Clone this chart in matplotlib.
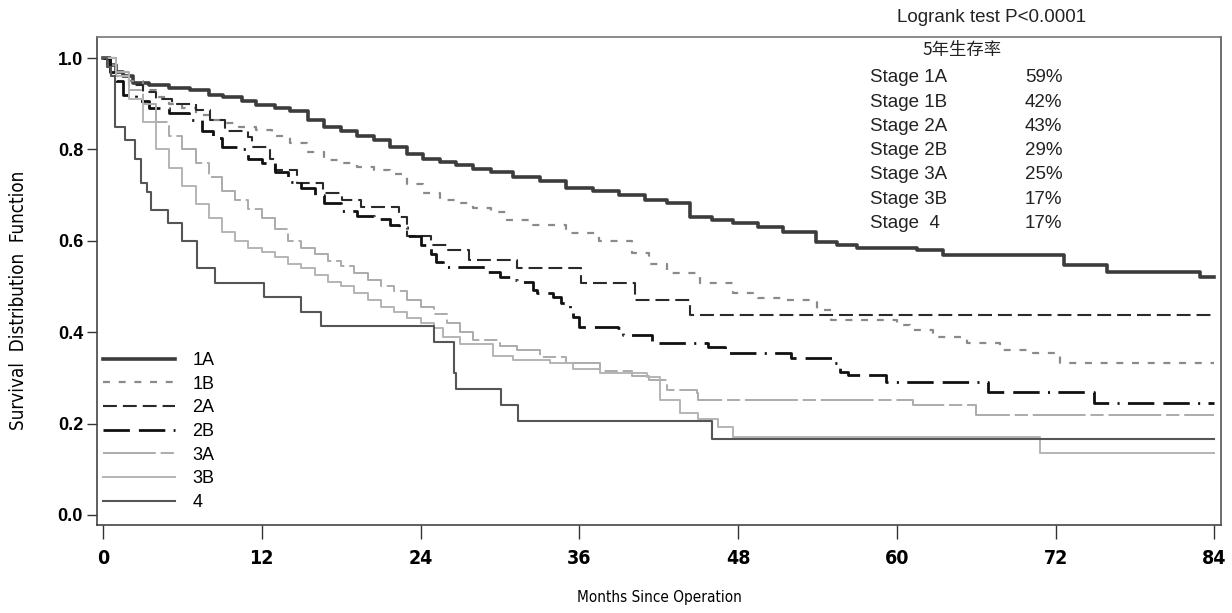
import matplotlib
matplotlib.use("Agg")
import matplotlib.pyplot as plt
from matplotlib import font_manager as fm

# ---------------- data ----------------
stage_labels = ["1A", "1B", "2A", "2B", "3A", "3B", "4"]

t_1a = [0, 0.5, 1, 1.5, 2.3, 3.5, 5, 6.6, 8, 9.1, 10.5, 11.6, 13, 14.1, 15.5, 16.7, 18, 19.2,
        20.5, 21.7, 23, 24.2, 25.5, 26.7, 28, 29.3, 31, 33, 35, 37, 39, 41, 42.6, 44.4, 46,
        47.6, 49.5, 51.4, 53.9, 55.5, 57, 61.5, 63.5, 72.6, 75.9, 82.9, 84]
s_1a = [1.0, 0.985, 0.97, 0.96, 0.945, 0.94, 0.935, 0.93, 0.92, 0.915, 0.905, 0.897, 0.89, 0.883,
        0.865, 0.85, 0.84, 0.83, 0.82, 0.806, 0.79, 0.78, 0.772, 0.766, 0.758, 0.751, 0.74, 0.73,
        0.715, 0.71, 0.70, 0.69, 0.682, 0.653, 0.645, 0.638, 0.63, 0.62, 0.598, 0.59, 0.585, 0.58,
        0.569, 0.547, 0.532, 0.521, 0.521]

t_1b = [0, 0.5, 1, 2, 3, 4, 5, 6, 7, 8, 9.1, 10.3, 11.6, 12.8, 14.1, 15.4, 16.7, 18, 19.2, 20.5,
        21.7, 23, 24.2, 25.5, 26.7, 28, 29.3, 30.5, 32.5, 35, 37.5, 40, 41.3, 42.6, 45.1, 47.6,
        49.5, 51.4, 54, 55, 60, 61, 62.7, 65.3, 67.8, 70.3, 72.3, 84]
s_1b = [1.0, 0.985, 0.97, 0.95, 0.93, 0.915, 0.90, 0.89, 0.875, 0.865, 0.857, 0.85, 0.842, 0.83,
        0.813, 0.795, 0.777, 0.77, 0.762, 0.755, 0.747, 0.725, 0.704, 0.69, 0.682, 0.672, 0.663,
        0.645, 0.635, 0.617, 0.60, 0.573, 0.55, 0.529, 0.507, 0.485, 0.475, 0.47, 0.448, 0.427,
        0.416, 0.405, 0.39, 0.376, 0.361, 0.354, 0.332, 0.332]

t_2a = [0, 1, 2, 3, 4, 5.2, 7, 8.1, 9.2, 11, 11.3, 12.6, 13, 14.7, 16.6, 18.1, 19.5, 22.4, 23,
        24.8, 26, 27.7, 31.3, 36.1, 40.2, 44.4, 84]
s_2a = [1.0, 0.96, 0.94, 0.925, 0.91, 0.90, 0.886, 0.864, 0.84, 0.828, 0.806, 0.78, 0.755, 0.726,
        0.704, 0.69, 0.675, 0.653, 0.61, 0.59, 0.58, 0.558, 0.54, 0.507, 0.47, 0.438, 0.438]

t_2b = [0, 0.5, 1, 1.5, 2.5, 3.5, 5, 6.5, 7.5, 8.3, 9, 10.2, 11, 12, 13, 14, 15, 16, 16.7, 18,
        19.2, 20.5, 21.7, 22.4, 23, 24, 24.8, 25.2, 25.7, 28.9, 30, 30.8, 31.3, 32.5, 32.8, 34,
        34.6, 35.3, 35.5, 36, 38.9, 39.3, 41.5, 45.7, 47, 52, 55.1, 55.7, 56.3, 59.2, 66.9,
        74.9, 84]
s_2b = [1.0, 0.97, 0.95, 0.92, 0.905, 0.89, 0.88, 0.865, 0.84, 0.825, 0.805, 0.80, 0.78, 0.77,
        0.75, 0.728, 0.715, 0.70, 0.682, 0.665, 0.655, 0.648, 0.635, 0.63, 0.61, 0.59, 0.57,
        0.554, 0.543, 0.532, 0.521, 0.514, 0.51, 0.492, 0.485, 0.478, 0.463, 0.449, 0.434, 0.412,
        0.41, 0.394, 0.376, 0.368, 0.355, 0.343, 0.332, 0.313, 0.306, 0.292, 0.27, 0.245, 0.245]

t_3a = [0, 1, 2, 3, 4, 5, 6, 7, 8, 9, 10, 11, 12, 13, 14, 15, 16, 17, 18, 19, 20, 21, 22, 23,
        24, 25, 26, 27, 28, 30, 31.3, 33, 35, 37.6, 40, 41.3, 42.6, 44.9, 45, 61.2, 66, 84]
s_3a = [1.0, 0.97, 0.93, 0.90, 0.86, 0.83, 0.80, 0.77, 0.74, 0.71, 0.69, 0.67, 0.65, 0.625, 0.60,
        0.585, 0.57, 0.555, 0.545, 0.53, 0.515, 0.50, 0.49, 0.47, 0.455, 0.44, 0.42, 0.40, 0.383,
        0.37, 0.361, 0.345, 0.332, 0.315, 0.305, 0.295, 0.274, 0.266, 0.252, 0.24, 0.219, 0.219]

t_3b = [0, 1, 2, 3, 4, 5, 6, 7, 8, 9, 10, 11, 12, 13, 14, 15, 16, 17, 18, 19, 20, 21, 22, 23,
        24, 25, 25.7, 27, 29.5, 31, 33.8, 35.5, 37.6, 41.1, 42.1, 43.6, 45, 46.5, 47.6, 70.8, 84]
s_3b = [1.0, 0.96, 0.91, 0.86, 0.80, 0.76, 0.72, 0.68, 0.65, 0.62, 0.60, 0.585, 0.575, 0.565,
        0.55, 0.54, 0.525, 0.51, 0.50, 0.485, 0.47, 0.455, 0.445, 0.43, 0.42, 0.41, 0.39, 0.375,
        0.347, 0.34, 0.332, 0.32, 0.31, 0.302, 0.252, 0.223, 0.21, 0.193, 0.171, 0.135, 0.135]

t_4 = [0, 0.3, 0.6, 0.9, 1.7, 2.4, 2.9, 3.3, 3.6, 4.9, 5.95, 7.1, 8.5, 12.2, 15.0, 16.5, 25.0,
       26.5, 26.7, 30.1, 31.4, 46.0, 84]
s_4 = [1.0, 0.98, 0.96, 0.85, 0.82, 0.78, 0.726, 0.707, 0.667, 0.638, 0.60, 0.54, 0.508, 0.476,
       0.444, 0.413, 0.379, 0.31, 0.276, 0.24, 0.206, 0.166, 0.166]

x_ticks = [0, 12, 24, 36, 48, 60, 72, 84]
y_ticks = [0.0, 0.2, 0.4, 0.6, 0.8, 1.0]

five_year_names = ["Stage 1A", "Stage 1B", "Stage 2A", "Stage 2B", "Stage 3A", "Stage 3B", "Stage  4"]
five_year_rates = ["59%", "42%", "43%", "29%", "25%", "17%", "17%"]

# ---------------- styling ----------------
plt.rcParams['lines.scale_dashes'] = False
names = {f.name for f in fm.fontManager.ttflist}
REG = 'Liberation Sans' if 'Liberation Sans' in names else 'DejaVu Sans'
has_narrow = 'Liberation Sans Narrow' in names
NARROW = 'Liberation Sans Narrow' if has_narrow else 'DejaVu Sans'
plt.rcParams['font.family'] = [REG, 'DejaVu Sans']

W, H = 1232, 613
fig = plt.figure(figsize=(W / 100, H / 100), dpi=100)
ax_l, ax_r, ax_t, ax_b = 97, 1221, 37, 525
ax = fig.add_axes([ax_l / W, 1 - ax_b / H, (ax_r - ax_l) / W, (ax_b - ax_t) / H])

series = [
    (t_1a, s_1a, dict(color='#3c3c3c', lw=2.6, ls='-')),
    (t_1b, s_1b, dict(color='#8a8a8a', lw=1.6, dashes=(5, 6.3))),
    (t_2a, s_2a, dict(color='#2a2a2a', lw=1.5, dashes=(10, 4.3))),
    (t_2b, s_2b, dict(color='#111111', lw=2.0, dashes=(19, 6.5, 19, 6, 1.5, 6))),
    (t_3a, s_3a, dict(color='#ababab', lw=1.4, dashes=(38, 3.5, 9.5, 3.5))),
    (t_3b, s_3b, dict(color='#b4b4b4', lw=1.4, ls='-')),
    (t_4, s_4, dict(color='#555555', lw=1.5, ls='-')),
]
handles = []
for (t, s, st), lab in zip(series, stage_labels):
    ln, = ax.plot(t, s, drawstyle='steps-post', label=lab, **st)
    handles.append(ln)

ax.set_xlim(-0.45, 84.5)
ax.set_ylim(-0.022, 1.046)
ax.set_xticks(x_ticks)
ax.set_xticklabels([str(v) for v in x_ticks], fontfamily=NARROW, fontweight='bold',
                   fontsize=14 if not has_narrow else 15, fontstretch='condensed')
ax.set_yticks(y_ticks)
ax.set_yticklabels([f"{v:.1f}" for v in y_ticks], fontfamily=REG, fontweight='bold', fontsize=13)
ax.tick_params(axis='x', length=10, width=1, pad=7, color='#333')
ax.tick_params(axis='y', length=7, width=1, pad=3, color='#333')
for sp in ax.spines.values():
    sp.set_color('#444')
    sp.set_linewidth(1.2)
ax.spines['top'].set_color('#777')
ax.spines['right'].set_color('#555')

ax.set_ylabel("Survival  Distribution  Function", fontfamily=NARROW, fontsize=13.5,
              fontstretch='condensed')
ax.yaxis.set_label_coords(-0.061, 0.46)
ax.set_xlabel("Months Since Operation", fontfamily=NARROW, fontsize=11,
              fontstretch='condensed', labelpad=16)

leg = ax.legend(handles=handles, labels=stage_labels, loc='upper left',
                bbox_to_anchor=((103 - ax_l) / (ax_r - ax_l), (ax_b - 352) / (ax_b - ax_t)),
                frameon=False, fontsize=13, handlelength=4.0, handletextpad=0.95,
                labelspacing=0.37, borderpad=0, borderaxespad=0)

# annotation text at top right
fig.text(897 / W, 1 - 18 / H, "Logrank test P<0.0001", fontsize=13.5, va='center', ha='left',
         color='#222')
fig.text(922 / W, 1 - 50 / H, "5年生存率", fontsize=12.5, va='center', ha='left', color='#222',
         family=['Noto Sans CJK SC', 'DejaVu Sans'])
for i, (nm, rt) in enumerate(zip(five_year_names, five_year_rates)):
    y = 78 + 24.2 * i
    fig.text(870 / W, 1 - y / H, nm, fontsize=13.5, va='center', ha='left', color='#222')
    fig.text(1025 / W, 1 - y / H, rt, fontsize=13.5, va='center', ha='left', color='#222')

fig.savefig("out.png", dpi=100)
